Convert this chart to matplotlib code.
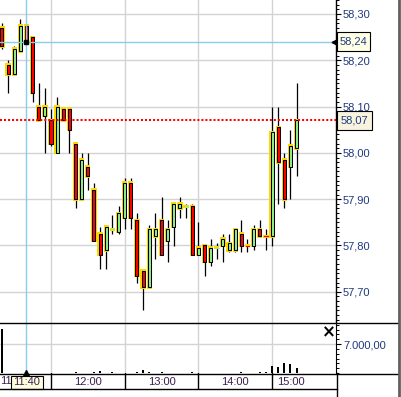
import matplotlib
matplotlib.use("Agg")
import matplotlib.pyplot as plt
from matplotlib.patches import Rectangle
from matplotlib.lines import Line2D
from matplotlib.ticker import MultipleLocator, FixedLocator, FuncFormatter

plt.rcParams['font.family'] = ['Liberation Sans', 'DejaVu Sans']

# 5 minute candles
times = ["11:20", "11:25", "11:30", "11:35", "11:40", "11:45", "11:50", "11:55",
         "12:00", "12:05", "12:10", "12:15", "12:20", "12:25", "12:30", "12:35",
         "12:40", "12:45", "12:50", "12:55", "13:00", "13:05", "13:10", "13:15",
         "13:20", "13:25", "13:30", "13:35", "13:40", "13:45", "13:50", "13:55",
         "14:00", "14:05", "14:10", "14:15", "14:20", "14:25", "14:30", "14:35",
         "14:40", "14:45", "14:50", "14:55", "15:00", "15:05", "15:10", "15:15",
         "15:20"]
opens = [58.27, 58.19, 58.17, 58.22, 58.275, 58.25, 58.10, 58.08,
         58.07, 58.00, 58.095, 58.095, 58.02, 57.90, 57.97, 57.92,
         57.825, 57.79, 57.835, 57.83, 57.86, 57.935, 57.855, 57.745,
         57.71, 57.82, 57.855, 57.81, 57.84, 57.88, 57.885, 57.885,
         57.78, 57.80, 57.765, 57.795, 57.80, 57.79, 57.79, 57.825,
         57.80, 57.80, 57.835, 57.82, 57.82, 58.055, 57.985, 57.97,
         58.01]
highs = [58.28, 58.20, 58.23, 58.29, 58.275, 58.25, 58.15, 58.14,
         58.095, 58.12, 58.10, 58.095, 58.02, 58.00, 58.00, 57.935,
         57.84, 57.84, 57.865, 57.885, 57.945, 57.945, 57.87, 57.745,
         57.845, 57.87, 57.905, 57.855, 57.89, 57.905, 57.89, 57.89,
         57.85, 57.80, 57.815, 57.805, 57.825, 57.825, 57.835, 57.855,
         57.815, 57.845, 57.855, 57.835, 58.10, 58.10, 58.00, 58.05,
         58.15]
lows = [58.225, 58.13, 58.17, 58.22, 58.24, 58.11, 58.07, 58.00,
        58.015, 58.00, 58.07, 58.00, 57.88, 57.90, 57.92, 57.81,
        57.75, 57.75, 57.825, 57.825, 57.835, 57.835, 57.72, 57.66,
        57.71, 57.77, 57.78, 57.765, 57.80, 57.86, 57.86, 57.78,
        57.78, 57.735, 57.755, 57.77, 57.765, 57.785, 57.785, 57.785,
        57.785, 57.79, 57.82, 57.79, 57.80, 57.89, 57.88, 57.90,
        57.95]
closes = [58.23, 58.17, 58.225, 58.275, 58.24, 58.13, 58.07, 58.10,
          58.02, 58.10, 58.07, 58.05, 57.90, 57.985, 57.95, 57.81,
          57.78, 57.84, 57.835, 57.87, 57.935, 57.86, 57.735, 57.71,
          57.835, 57.835, 57.78, 57.835, 57.89, 57.89, 57.885, 57.78,
          57.795, 57.765, 57.795, 57.795, 57.815, 57.805, 57.835, 57.80,
          57.80, 57.835, 57.82, 57.82, 58.045, 57.98, 57.90, 58.015,
          58.07]
volumes = [10600, 0, 0, 0, 0, 0, 0, 0,
           0, 0, 0, 0, 250, 0, 0, 300,
           550, 0, 300, 0, 0, 0, 300, 650,
           300, 0, 300, 0, 0, 0, 0, 250,
           0, 0, 0, 0, 0, 0, 0, 250,
           0, 0, 250, 250, 1700, 1400, 2300, 2200,
           1100]

hour_marks = ["12:00", "13:00", "14:00", "15:00"]
time_labels = ["12:00", "13:00", "14:00", "15:00"]
time_label_at = ["12:30", "13:30", "14:30", "15:15"]
cut_label = "11"     # what shows of the 11:30 label left of the crosshair box
cross_time = "11:40"
cross_price = 58.24
last_price = 58.07
vol_tick = 7000

W, H = 401, 397
PX = 6.14            # pixels per candle
UP, DOWN, EDGE = '#90ee90', '#ff0000', '#ffd700'
TXT = '#203a80'
TTXT = '#3c1e50'
GRID = '#d3d3d3'


def kpos(t):
    h, m = t.split(':')
    return (int(h) * 60 + int(m) - 12 * 60) / 5.0


def fx(px):
    return px / W


def fy(py):
    return 1 - py / H


def price_fmt(v, pos):
    return f"{v:.2f}".replace('.', ',')


def vol_fmt(v, pos):
    s = f"{v:,.2f}"
    return s.replace(',', '#').replace('.', ',').replace('#', '.')


xmin, xmax = -51 / PX, (336 - 51) / PX
ymax = 58.30 + 14 / 463.0
ymin = 58.30 - 309 / 463.0
ppx = 1 / 463.0      # price per pixel

fig = plt.figure(figsize=(W / 100, H / 100), dpi=100)
ax = fig.add_axes([0, fy(323), fx(336), 323 / H])
axv = fig.add_axes([0, fy(373), fx(336), 50 / H])
axt = fig.add_axes([0, fy(389), fx(336), 16 / H])

hours = [kpos(t) for t in hour_marks]

# ---- price panel
ax.set_xlim(xmin, xmax)
ax.set_ylim(ymin, ymax)
ax.set_axisbelow(True)
for s in ['top', 'left', 'bottom']:
    ax.spines[s].set_visible(False)
ax.spines['right'].set_linewidth(1.0)
ax.yaxis.tick_right()
ax.yaxis.set_major_locator(MultipleLocator(0.1))
ax.yaxis.set_minor_locator(MultipleLocator(0.01))
ax.yaxis.set_major_formatter(FuncFormatter(price_fmt))
ax.tick_params(axis='y', which='major', length=3.6, width=0.8, pad=1.5,
               labelsize=8, labelcolor=TXT)
ax.tick_params(axis='y', which='minor', length=2, width=0.7)
ax.set_xticks(hours)
ax.tick_params(axis='x', length=0, labelbottom=False)
ax.grid(True, color=GRID, lw=1)

prev_col = UP
for t, o, hi, lo, c in zip(times, opens, highs, lows, closes):
    k = kpos(t)
    ax.vlines(k, lo, hi, color='black', lw=0.9, zorder=3)
    if abs(c - o) > 1e-9:
        col = UP if c > o else DOWN
        b = min(o, c)
        hgt = abs(c - o)
        ax.add_patch(Rectangle((k - 0.43, b - 1.5 * ppx), 0.86, hgt + 3 * ppx,
                               fc=EDGE, ec='none', zorder=4))
        ax.add_patch(Rectangle((k - 0.245, b), 0.49, hgt, fc=col,
                               ec='black', lw=0.75, zorder=5))
        prev_col = col
    else:
        # doji: flat yellow bar, coloured like the candle before it
        ax.add_patch(Rectangle((k - 0.43, o - 1.5 * ppx), 0.86, 3 * ppx,
                               fc=EDGE, ec='none', zorder=4))
        ax.plot([k - 0.3, k + 0.3], [o, o], color=prev_col, lw=0.8, zorder=5)

kc = kpos(cross_time)
ax.axhline(cross_price, color='#87ceeb', lw=1, zorder=6)
ax.axvline(kc, color='#87ceeb', lw=1, zorder=6)
ax.plot(kc, cross_price, 's', color='black', ms=2.5, zorder=7)
ax.axhline(last_price, color='red', lw=1.45, ls=(0, (1, 1)), zorder=6)
ax.plot(xmax - 0.25, cross_price, marker='<', color='black', ms=3.5,
        clip_on=False, zorder=8)

# ---- volume panel
axv.set_xlim(xmin, xmax)
axv.set_ylim(0, 50 * vol_tick / 29.0)
axv.set_axisbelow(True)
for s in ['top', 'left', 'bottom']:
    axv.spines[s].set_visible(False)
axv.yaxis.tick_right()
axv.yaxis.set_major_locator(FixedLocator([vol_tick]))
axv.yaxis.set_minor_locator(MultipleLocator(vol_tick / 6.0))
axv.yaxis.set_major_formatter(FuncFormatter(vol_fmt))
axv.tick_params(axis='y', which='major', length=3.6, width=0.8, pad=1.5,
                labelsize=8, labelcolor=TXT)
axv.tick_params(axis='y', which='minor', length=2, width=0.7)
axv.set_xticks(hours)
axv.tick_params(axis='x', length=0, labelbottom=False)
axv.grid(True, color=GRID, lw=1)
ks = [kpos(t) for t in times]
axv.bar(ks, volumes, width=0.33, color='black', zorder=3)
axv.axvline(kc, color='#87ceeb', lw=1, zorder=4)
axv.plot(kc, 0, marker='^', color='black', ms=4, clip_on=False, zorder=5)
fig.text(fx(328.5), fy(332.5), '×', fontsize=12, fontweight='bold',
         ha='center', va='center', family='DejaVu Sans')

# ---- time axis
axt.set_xlim(xmin, xmax)
axt.set_ylim(0, 1)
axt.axis('off')
for k in hours:
    axt.axvline(k, color='black', lw=1)
for lab, at in zip(time_labels, time_label_at):
    axt.text(kpos(at), 0.45, lab, ha='center', va='center', fontsize=8,
             color=TTXT)
fig.text(fx(0.3), fy(381.5), cut_label, ha='left', va='center', fontsize=8,
         color=TTXT)
axt.add_patch(Rectangle(((11 - 51) / PX, 0.0), 31.5 / PX, 0.83,
                        fc='#ffffe0', ec='black', lw=0.8, zorder=5,
                        clip_on=False))
axt.text(kc + 0.08, 0.42, cross_time, ha='center', va='center', fontsize=8,
         color=TTXT, zorder=6)

# ---- frame lines and price boxes
lines = [([0, fx(398)], [fy(323), fy(323)], 1.0, 'black'),
         ([0, fx(398)], [fy(373.5), fy(373.5)], 1.0, 'black'),
         ([0, fx(336.5)], [fy(389.3), fy(389.3)], 1.0, 'black'),
         ([fx(336.5), fx(336.5)], [fy(373), 0], 1.0, 'black'),
         ([fx(398.5), fx(398.5)], [0, 1], 2.0, '#606060')]
for xs, ys, lw, col in lines:
    fig.add_artist(Line2D(xs, ys, lw=lw, color=col, transform=fig.transFigure))

boxes = [(cross_price, 32, 51, 370, '#ffffe6'),
         (last_price, 111, 129.5, 371.5, '#f7f3df')]
for val, y0, y1, x1, fc in boxes:
    fig.add_artist(Rectangle((fx(336.5), fy(y1)), fx(x1 - 336.5), (y1 - y0) / H,
                             fc=fc, ec='black', lw=0.8,
                             transform=fig.transFigure, zorder=10))
    fig.text(fx((336.5 + x1) / 2 + 0.5), fy((y0 + y1) / 2), price_fmt(val, 0),
             ha='center', va='center', fontsize=8, color=TXT, zorder=11)

fig.savefig('out.png', dpi=100)
